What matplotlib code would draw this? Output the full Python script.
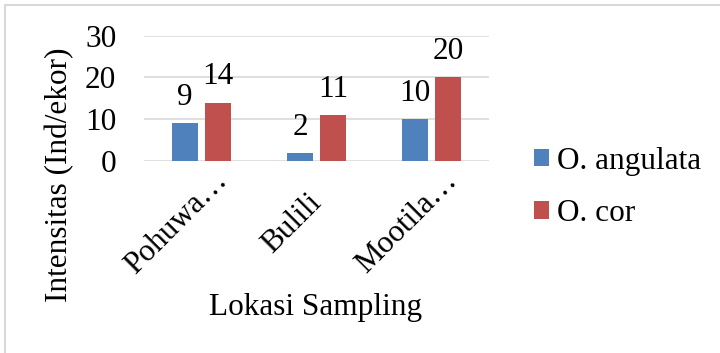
import matplotlib
matplotlib.use("Agg")
import matplotlib.pyplot as plt
from matplotlib.patches import Rectangle
import numpy as np

categories = ["Pohuwa\u2026", "Bulili", "Mootila\u2026"]
series_names = ["O. angulata", "O. cor"]
angulata = [9, 2, 10]
cor = [14, 11, 20]
yticks = [0, 10, 20, 30]

plt.rcParams['font.family'] = ['Liberation Serif', 'DejaVu Serif']
FS = 22.5

W, H = 720, 353
fig = plt.figure(figsize=(W / 100, H / 100), dpi=100)
ax = fig.add_axes([144 / W, (H - 161) / H, (489 - 144) / W, (161 - 35.7) / H])

x = np.arange(len(categories))
bw = 0.226
off = 0.143
b1 = ax.bar(x - off, angulata, bw, color="#4F81BD", label=series_names[0], zorder=3)
b2 = ax.bar(x + off, cor, bw, color="#C0504D", label=series_names[1], zorder=3)

for bars, vals in ((b1, angulata), (b2, cor)):
    for r, v in zip(bars, vals):
        ax.annotate(str(v), (r.get_x() + r.get_width() / 2, v), xytext=(0, 8),
                    textcoords="offset points", ha="center", va="bottom", fontsize=FS)

ax.set_xlim(-0.5, len(categories) - 0.5)
ax.set_ylim(0, 30)
ax.set_yticks(yticks)
ax.set_yticklabels([str(t) for t in yticks], fontsize=FS)
ax.tick_params(axis="y", length=0, pad=20)
ax.set_xticks([])
ax.grid(axis="y", color="#d9d9d9", lw=1.2, zorder=0)
for s in ax.spines.values():
    s.set_visible(False)

trans = ax.get_xaxis_transform()
for i, c in enumerate(categories):
    ax.text(i - 0.217, -0.496, c, rotation=45, ha="center", va="center",
            fontsize=FS, transform=trans, rotation_mode="anchor")

fig.text(60 / W, (H - 175) / H, "Intensitas (Ind/ekor)", rotation=90,
         ha="center", va="center", fontsize=FS)
fig.text(316 / W, (H - 308) / H, "Lokasi Sampling", ha="center", va="center", fontsize=FS)

leg = fig.legend(handles=[b1, b2], labels=series_names, loc="upper left",
                 bbox_to_anchor=(521 / W, (H - 134) / H), frameon=False, fontsize=FS,
                 handlelength=0.5, handleheight=0.5, handletextpad=0.25,
                 labelspacing=0.75, borderaxespad=0)

fig.patches.append(Rectangle((5 / W, -0.1), 1.2, (H - 5) / H + 0.1, fill=False,
                             ec="#d9d9d9", lw=1.5, transform=fig.transFigure))

fig.savefig("out.png", dpi=100)
